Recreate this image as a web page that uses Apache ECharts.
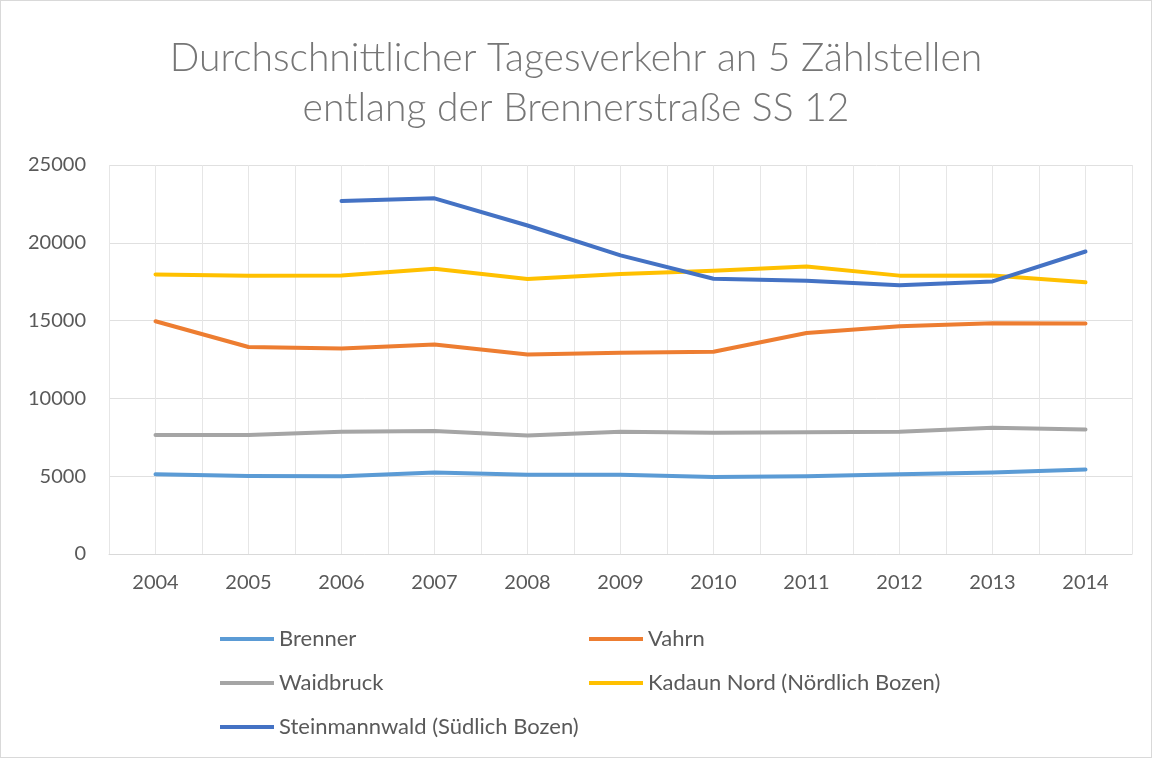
<!DOCTYPE html>
<html>
<head>
<meta charset="utf-8">
<script src="https://cdn.jsdelivr.net/npm/echarts@6/dist/echarts.min.js"></script>
<style>
  html, body { margin: 0; padding: 0; background: #fff; }
  #chart { width: 1150px; height: 756px; border: 1px solid #d9d9d9; }
</style>
</head>
<body>
<div id="chart"></div>
<script>
// Jahre
var years = ["2004", "2005", "2006", "2007", "2008", "2009", "2010", "2011", "2012", "2013", "2014"];

// Zählstellen
var brenner = [5130, 5020, 4990, 5240, 5100, 5100, 4950, 5000, 5130, 5230, 5430];
var vahrn = [14960, 13300, 13200, 13460, 12820, 12930, 13000, 14200, 14640, 14830, 14810];
var waidbruck = [7650, 7650, 7850, 7900, 7620, 7850, 7800, 7820, 7860, 8120, 8000];
var kadaunNord = [17970, 17890, 17900, 18330, 17670, 18000, 18200, 18480, 17890, 17900, 17460];
var steinmannwald = [null, null, 22690, 22860, 21110, 19190, 17690, 17560, 17270, 17520, 19440];

var yTicks = [0, 5000, 10000, 15000, 20000, 25000];

var font = "Lato, 'Open Sans', sans-serif";
var chart = echarts.init(document.getElementById("chart"));

function line(name, data, color) {
  return {
    name: name,
    type: "line",
    data: data,
    color: color,
    symbol: "none",
    connectNulls: false,
    lineStyle: { width: 4, color: color, cap: "round", join: "round" }
  };
}

var legendStyle = { fontFamily: font, fontSize: 22, color: "#595959" };

chart.setOption({
  animation: false,
  title: {
    text: "Durchschnittlicher Tagesverkehr an 5 Zählstellen\nentlang der Brennerstraße SS 12",
    left: "center",
    top: 27,
    textStyle: {
      fontFamily: font,
      fontSize: 39,
      fontWeight: 300,
      lineHeight: 50,
      color: "#767676"
    }
  },
  legend: [
    {
      data: ["Brenner", "Waidbruck", "Steinmannwald (Südlich Bozen)"],
      orient: "vertical",
      left: 214,
      top: 622,
      itemWidth: 54,
      itemHeight: 4,
      itemGap: 22,
      icon: "rect",
      textStyle: legendStyle
    },
    {
      data: ["Vahrn", "Kadaun Nord (Nördlich Bozen)"],
      orient: "vertical",
      left: 583,
      top: 622,
      itemWidth: 54,
      itemHeight: 4,
      itemGap: 22,
      icon: "rect",
      textStyle: legendStyle
    }
  ],
  grid: { left: 108, right: 19, top: 164, bottom: 203 },
  xAxis: [
    {
      type: "category",
      data: years,
      boundaryGap: true,
      axisLine: { lineStyle: { color: "#d9d9d9", width: 1 } },
      axisTick: { show: false },
      splitLine: { show: false },
      axisLabel: { fontFamily: font, fontSize: 20, color: "#595959", margin: 19 }
    },
    {
      type: "value",
      min: 0,
      max: years.length * 2,
      interval: 1,
      position: "bottom",
      axisLine: { show: false },
      axisTick: { show: false },
      axisLabel: { show: false },
      splitLine: { show: true, lineStyle: { color: "#e6e6e6", width: 1 } }
    }
  ],
  yAxis: {
    type: "value",
    min: yTicks[0],
    max: yTicks[yTicks.length - 1],
    interval: yTicks[1] - yTicks[0],
    axisLine: { show: false },
    axisTick: { show: false },
    axisLabel: {
      fontFamily: font,
      fontSize: 20,
      color: "#595959",
      margin: 23,
      formatter: function (v) { return String(v); }
    },
    splitLine: { lineStyle: { color: "#e0e0e0", width: 1 } }
  },
  series: [
    line("Brenner", brenner, "#5b9bd5"),
    line("Vahrn", vahrn, "#ed7d31"),
    line("Waidbruck", waidbruck, "#a5a5a5"),
    line("Kadaun Nord (Nördlich Bozen)", kadaunNord, "#ffc000"),
    line("Steinmannwald (Südlich Bozen)", steinmannwald, "#4472c4")
  ]
});
</script>
</body>
</html>
